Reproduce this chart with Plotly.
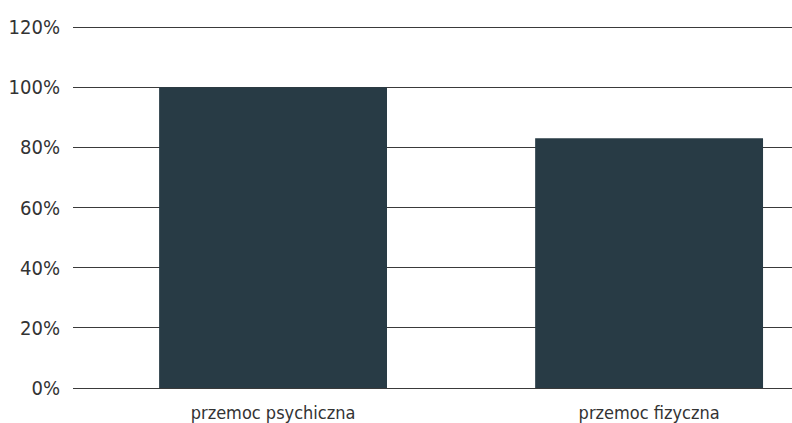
import plotly.graph_objects as go

categories = ["przemoc psychiczna", "przemoc fizyczna"]
values = [100, 83]
y_ticks = [0, 20, 40, 60, 80, 100, 120]
y_tick_labels = ["0%", "20%", "40%", "60%", "80%", "100%", "120%"]

fig = go.Figure(go.Bar(
    x=[0, 1], y=values, width=0.606,
    marker=dict(color="#283b45", line=dict(width=0)),
    hoverinfo="skip",
))

font_family = "DejaVu Sans Condensed, Liberation Sans Narrow, sans-serif"

fig.update_layout(
    width=792, height=423,
    margin=dict(l=73, r=0, t=24, b=35, autoexpand=False),
    paper_bgcolor="white", plot_bgcolor="white",
    showlegend=False,
    font=dict(family=font_family, color="#333333"),
    xaxis=dict(
        range=[-0.532, 1.380],
        tickvals=[0, 1], ticktext=categories,
        showgrid=False, zeroline=False, showline=False,
        ticks="", ticklabelstandoff=12,
        tickfont=dict(size=18, color="#333333"),
        automargin=False, fixedrange=True,
    ),
    yaxis=dict(
        range=[0, 121],
        tickvals=y_ticks, ticktext=y_tick_labels,
        showgrid=True, gridcolor="#3a3a3a", gridwidth=1,
        zeroline=True, zerolinecolor="#3a3a3a", zerolinewidth=1,
        showline=False, ticks="", ticklabelstandoff=12,
        tickfont=dict(size=20, color="#333333"),
        automargin=False, fixedrange=True,
    ),
)

fig.write_html("out.html", config={"displayModeBar": False},
               post_script="document.body.style.margin='0';")
